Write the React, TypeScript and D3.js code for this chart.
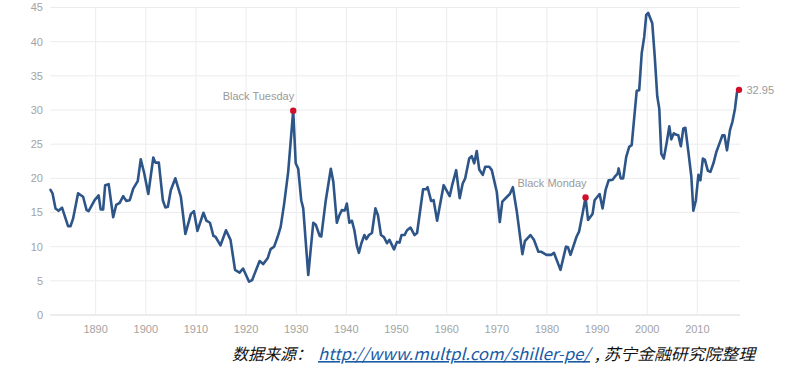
import React from "react";
import * as d3 from "d3";

const years = [
  1881.0, 1881.4, 1882.0, 1882.6, 1883.3, 1884.5, 1885.0, 1885.5, 1886.5, 1887.5,
  1888.2, 1888.6, 1889.8, 1890.6, 1891.0, 1891.5, 1891.9, 1892.6, 1893.5, 1894.1,
  1894.8, 1895.5, 1896.1, 1896.8, 1897.5, 1898.4, 1899.0, 1899.7, 1900.5, 1901.5,
  1901.9, 1902.6, 1903.4, 1903.9, 1904.4, 1905.0, 1905.9, 1907.0, 1907.9, 1909.0,
  1909.6, 1910.3, 1911.5, 1912.1, 1912.8, 1913.5, 1913.9, 1914.9, 1916.0, 1916.9,
  1917.8, 1918.7, 1919.4, 1920.6, 1921.2, 1922.7, 1923.4, 1924.3, 1924.9, 1925.6,
  1926.3, 1926.9, 1927.6, 1928.4, 1929.4, 1929.9, 1930.4, 1931.0, 1931.4, 1932.4,
  1933.4, 1933.9, 1934.7, 1935.0, 1935.9, 1936.9, 1937.4, 1938.1, 1938.6, 1939.1,
  1939.7, 1940.1, 1940.6, 1941.1, 1941.6, 1942.1, 1942.5, 1943.0, 1943.6, 1944.0,
  1944.5, 1945.1, 1945.8, 1946.3, 1946.9, 1947.5, 1948.1, 1948.6, 1949.5, 1950.1,
  1950.6, 1951.0, 1951.6, 1952.1, 1952.8, 1953.6, 1954.1, 1955.3, 1955.9, 1956.2,
  1956.9, 1957.4, 1958.1, 1958.8, 1959.4, 1960.6, 1961.1, 1961.9, 1962.6, 1963.2,
  1963.7, 1964.5, 1965.0, 1965.5, 1966.0, 1966.5, 1967.2, 1967.7, 1968.5, 1969.0,
  1970.0, 1970.6, 1971.1, 1971.9, 1972.6, 1973.2, 1974.0, 1975.1, 1975.6, 1976.7,
  1977.4, 1978.3, 1978.9, 1979.9, 1980.9, 1981.4, 1982.7, 1983.8, 1984.2, 1984.7,
  1985.9, 1986.4, 1987.1, 1987.7, 1988.2, 1989.1, 1989.5, 1990.5, 1991.1, 1991.7,
  1992.3, 1993.1, 1993.5, 1994.1, 1994.3, 1994.7, 1995.2, 1995.8, 1996.4, 1996.9,
  1997.9, 1998.4, 1998.9, 1999.4, 1999.8, 2000.2, 2001.0, 2001.5, 2002.0, 2002.4,
  2002.8, 2003.3, 2003.9, 2004.4, 2004.8, 2005.3, 2005.7, 2006.2, 2006.7, 2007.2,
  2007.6, 2008.2, 2008.8, 2009.2, 2009.7, 2010.2, 2010.6, 2011.1, 2011.5, 2012.1,
  2012.6, 2013.2, 2013.8, 2014.5, 2015.0, 2015.4, 2015.9, 2016.5, 2017.0, 2017.5,
  2017.9, 2018.3,
];

const pe = [
  18.3, 17.8, 15.6, 15.25, 15.7, 13.0, 13.0, 14.1, 17.8, 17.3,
  15.35, 15.2, 16.8, 17.5, 15.45, 15.45, 19.0, 19.15, 14.3, 16.1,
  16.4, 17.4, 16.7, 16.8, 18.5, 19.6, 22.8, 20.7, 17.7, 23.05,
  22.3, 22.3, 16.8, 15.75, 15.85, 18.3, 20.0, 17.3, 11.85, 14.8,
  15.2, 12.3, 14.96, 13.8, 13.5, 11.55, 11.45, 10.2, 12.4, 11.0,
  6.6, 6.2, 6.8, 4.87, 5.1, 7.9, 7.45, 8.3, 9.65, 10.0,
  11.45, 12.9, 16.3, 20.95, 29.9, 22.2, 21.4, 16.8, 15.6, 5.85,
  13.5, 13.2, 11.55, 11.5, 16.8, 21.4, 19.5, 13.5, 14.6, 15.35,
  15.3, 16.3, 13.5, 13.8, 12.4, 10.1, 9.1, 10.5, 11.7, 11.1,
  11.7, 12.0, 15.6, 14.6, 11.7, 11.4, 10.5, 11.0, 9.6, 10.7,
  10.6, 11.7, 11.7, 12.4, 12.8, 11.7, 12.0, 18.4, 18.4, 18.7,
  16.7, 16.8, 13.8, 16.6, 19.0, 17.4, 19.0, 21.2, 17.1, 19.25,
  20.0, 22.9, 23.25, 22.2, 24.0, 21.3, 20.5, 21.7, 21.7, 21.2,
  18.0, 13.6, 16.6, 17.2, 17.7, 18.7, 15.1, 8.9, 10.8, 11.7,
  11.0, 9.25, 9.25, 8.8, 8.8, 9.1, 6.6, 10.0, 9.9, 8.8,
  11.45, 12.2, 14.8, 17.2, 13.9, 14.8, 16.8, 17.7, 15.6, 18.3,
  19.7, 19.8, 20.2, 20.7, 21.45, 20.0, 20.0, 23.1, 24.6, 24.85,
  32.8, 32.9, 38.3, 40.7, 43.9, 44.2, 42.7, 37.8, 32.0, 30.2,
  23.6, 22.9, 25.3, 27.6, 25.7, 26.6, 26.4, 26.3, 24.7, 27.3,
  27.4, 23.9, 20.2, 15.25, 16.8, 20.5, 19.7, 22.9, 22.7, 21.1,
  20.95, 22.2, 23.9, 25.3, 26.3, 26.3, 24.1, 27.05, 28.3, 30.2,
  32.6, 32.95,
];

const xTicks = [1890, 1900, 1910, 1920, 1930, 1940, 1950, 1960, 1970, 1980, 1990, 2000, 2010];
const yTicks = [0, 5, 10, 15, 20, 25, 30, 35, 40, 45];

const eventYears = [1929.4, 1987.7];
const eventValues = [29.9, 17.2];
const eventLabels = ["Black Tuesday", "Black Monday"];

const lastLabel = "32.95";
const sourcePrefix = "数据来源：";
const sourceUrl = "http://www.multpl.com/shiller-pe/";
const sourceSuffix = ", 苏宁金融研究院整理";

export default function App() {
  const W = 793;
  const H = 372;
  const left = 50;
  const right = 740;
  const top = 7.5;
  const bottom = 315;

  const x = d3.scaleLinear().domain([1880.9, 2018.5]).range([left, right]);
  const y = d3.scaleLinear().domain([0, 45]).range([bottom, top]);

  const data = years.map((yr, i) => [yr, pe[i]] as [number, number]);
  const line = d3
    .line<[number, number]>()
    .x((d) => x(d[0]))
    .y((d) => y(d[1]))
    .curve(d3.curveLinear);

  const lastYear = years[years.length - 1];
  const lastVal = pe[pe.length - 1];
  const axisFont = "'Liberation Sans', Arial, sans-serif";
  const srcFont = "'Noto Sans CJK SC', 'Noto Sans', sans-serif";

  return (
    <div style={{ position: "absolute", left: 0, top: 0, width: W, height: H, background: "#fff" }}>
      <svg width={W} height={H} style={{ display: "block" }}>
        {yTicks.map((t) => (
          <line
            key={"gy" + t}
            x1={left}
            x2={right}
            y1={y(t)}
            y2={y(t)}
            stroke={t === 0 ? "#d8d8dc" : "#ececef"}
            strokeWidth={1}
          />
        ))}
        {xTicks.map((t) => (
          <line key={"gx" + t} x1={x(t)} x2={x(t)} y1={top} y2={bottom} stroke="#ececef" strokeWidth={1} />
        ))}
        {yTicks.map((t) => (
          <text
            key={"ly" + t}
            x={43}
            y={y(t)}
            dy="0.35em"
            textAnchor="end"
            fontFamily={axisFont}
            fontSize={11}
            fill="#a3a3a3"
          >
            {t}
          </text>
        ))}
        {xTicks.map((t) => (
          <text
            key={"lx" + t}
            x={x(t)}
            y={333}
            textAnchor="middle"
            fontFamily={axisFont}
            fontSize={11}
            fill="#a3a3a3"
          >
            {t}
          </text>
        ))}
        <path
          d={line(data) || ""}
          fill="none"
          stroke="#2d5588"
          strokeWidth={2.6}
          strokeLinejoin="round"
          strokeLinecap="round"
        />
        {eventYears.map((ey, i) => (
          <g key={"ev" + i}>
            <circle cx={x(ey)} cy={y(eventValues[i])} r={3.2} fill="#d0102a" />
            <text
              x={x(ey) + 1}
              y={y(eventValues[i]) - 10.5}
              textAnchor="end"
              fontFamily={axisFont}
              fontSize={11}
              fill="#9a9a9a"
            >
              {eventLabels[i]}
            </text>
          </g>
        ))}
        <circle cx={x(lastYear)} cy={y(lastVal)} r={3.2} fill="#d0102a" />
        <text
          x={x(lastYear) + 7.5}
          y={y(lastVal)}
          dy="0.35em"
          fontFamily={axisFont}
          fontSize={11}
          fill="#9a9a9a"
        >
          {lastLabel}
        </text>
        <text
          x={232}
          y={360}
          fontFamily={srcFont}
          fontSize={16}
          fontStyle="italic"
          fill="#111"
          textLength={80}
          lengthAdjust="spacingAndGlyphs"
        >
          {sourcePrefix}
        </text>
        <text
          x={318}
          y={360}
          fontFamily={srcFont}
          fontSize={16}
          fontStyle="italic"
          fill="#1a5ba6"
          textDecoration="underline"
          style={{ textDecoration: "underline" }}
          textLength={272}
          lengthAdjust="spacingAndGlyphs"
        >
          {sourceUrl}
        </text>
        <text
          x={595}
          y={360}
          fontFamily={srcFont}
          fontSize={16}
          fontStyle="italic"
          fill="#111"
          textLength={160}
          lengthAdjust="spacingAndGlyphs"
        >
          {sourceSuffix}
        </text>
      </svg>
    </div>
  );
}
